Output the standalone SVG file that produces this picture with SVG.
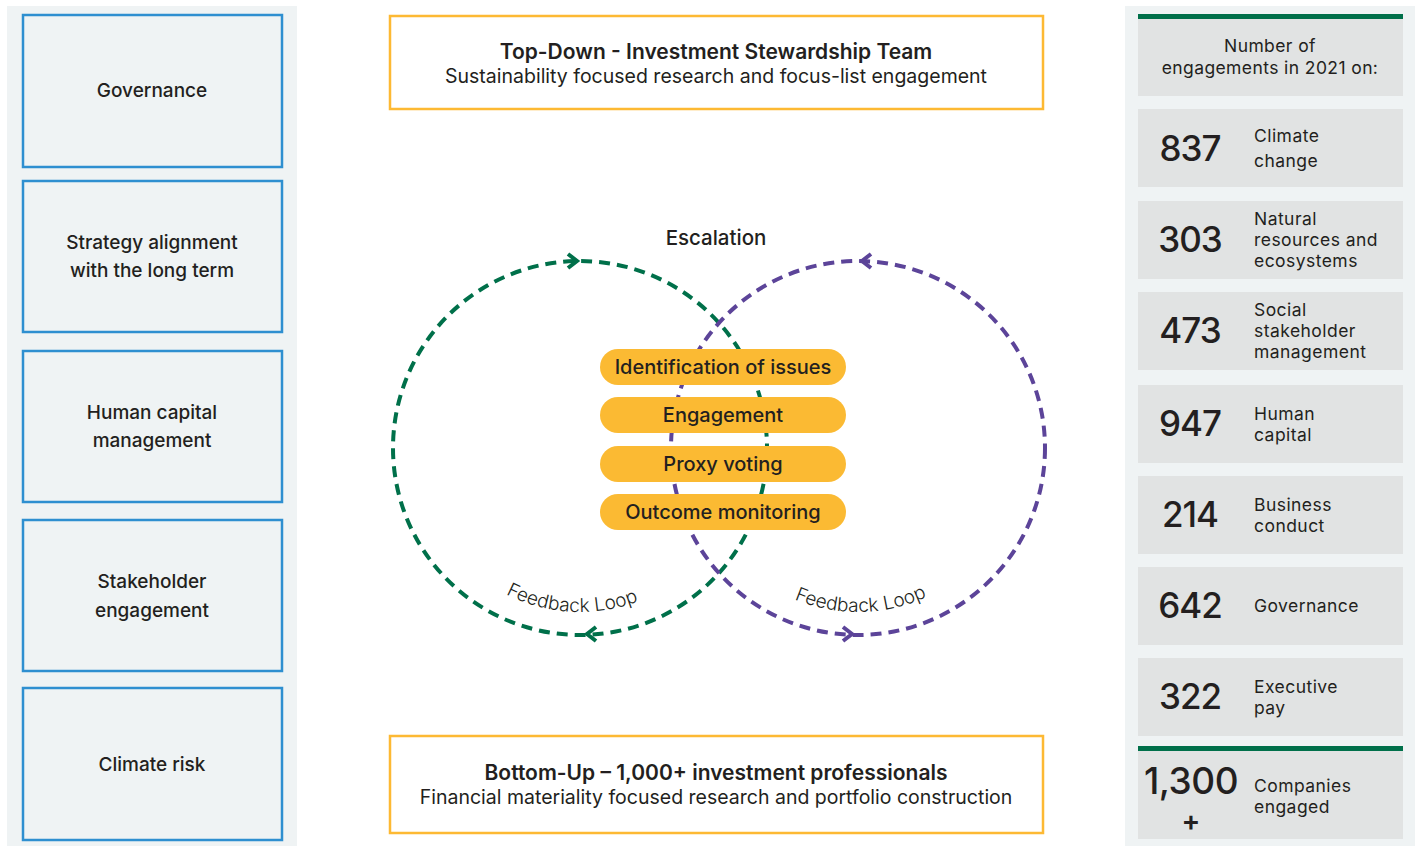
<svg xmlns="http://www.w3.org/2000/svg" width="1418" height="846" viewBox="0 0 1418 846">
<style>
text{font-family:"Inter","Liberation Sans",sans-serif;fill:#231f20}
.lbox{fill:#eff3f4;stroke:#2e8fd0;stroke-width:2.5}
.lt{font-size:19px;font-weight:500;text-anchor:middle}
.card{fill:#e1e3e3}
.num{font-size:35px;font-weight:500;text-anchor:middle;letter-spacing:-1px}
.cl{font-size:17.5px;font-weight:400;letter-spacing:0.45px}
.ybox{fill:#fff;stroke:#fdb933;stroke-width:2.5}
.tt{font-size:21px;font-weight:600;text-anchor:middle}
.st{font-size:19.5px;font-weight:400;text-anchor:middle}
.hd{font-size:17.5px;font-weight:400;text-anchor:middle;letter-spacing:0.4px}
.pill{fill:#fbba33}
.pt{font-size:20px;font-weight:500;text-anchor:middle}
.g{fill:none;stroke:#00704a;stroke-width:4}
.p{fill:none;stroke:#5c4499;stroke-width:4}
.dash{stroke-dasharray:11 7}
.chev{stroke-linecap:butt;stroke-linejoin:miter}
.fb{font-size:19px;font-weight:300}
</style>
<defs>
<path id="arcL" d="M 454.4 553.4 A 164 164 0 0 0 693.9 566.0"/>
<path id="arcR" d="M 740 561.9 A 164 164 0 0 0 979.9 557.7"/>
</defs>
<rect width="1418" height="846" fill="#fff"/>
<rect x="7" y="6" width="290" height="840" fill="#eff3f4"/>
<rect x="1125" y="6" width="290" height="840" fill="#eff3f4"/>

<g id="left-governance"><rect class="lbox" x="23" y="15" width="259" height="152"/><text class="lt" x="152" y="97">Governance</text></g>
<g id="left-strategy"><rect class="lbox" x="23" y="181" width="259" height="151"/><text class="lt" x="152" y="249">Strategy alignment<tspan x="152" dy="28">with the long term</tspan></text></g>
<g id="left-human"><rect class="lbox" x="23" y="351" width="259" height="151"/><text class="lt" x="152" y="419">Human capital<tspan x="152" dy="28">management</tspan></text></g>
<g id="left-stakeholder"><rect class="lbox" x="23" y="520" width="259" height="151"/><text class="lt" x="152" y="588">Stakeholder<tspan x="152" dy="29">engagement</tspan></text></g>
<g id="left-climate"><rect class="lbox" x="23" y="688" width="259" height="152"/><text class="lt" x="152" y="771">Climate risk</text></g>

<g id="top-box"><rect class="ybox" x="390" y="16" width="653" height="93"/><text class="tt" x="716" y="59">Top-Down - Investment Stewardship Team</text><text class="st" x="716" y="83">Sustainability focused research and focus-list engagement</text></g>
<g id="bottom-box"><rect class="ybox" x="390" y="736" width="653" height="97"/><text class="tt" x="716" y="780">Bottom-Up – 1,000+ investment professionals</text><text class="st" x="716" y="804">Financial materiality focused research and portfolio construction</text></g>

<g id="connectors">
<circle class="g dash" cx="580" cy="448" r="187"/>
<circle class="p dash" cx="858" cy="448" r="187"/>
<path class="g chev" d="M568 254 L577 261 L568 268"/>
<path class="g chev" d="M596 627 L587 634 L596 641"/>
<path class="p chev" d="M871 254 L862 261 L871 268"/>
<path class="p chev" d="M843 627 L852 634 L843 641"/>
<text class="fb"><textPath href="#arcL" startOffset="50%" text-anchor="middle">Feedback Loop</textPath></text>
<text class="fb"><textPath href="#arcR" startOffset="50%" text-anchor="middle">Feedback Loop</textPath></text>
<text x="716" y="245" style="font-size:20.5px;font-weight:500;text-anchor:middle">Escalation</text>
</g>

<g id="pill-identification"><rect class="pill" x="600" y="349" width="246" height="36" rx="18"/><text class="pt" x="723" y="374">Identification of issues</text></g>
<g id="pill-engagement"><rect class="pill" x="600" y="397" width="246" height="36" rx="18"/><text class="pt" x="723" y="422">Engagement</text></g>
<g id="pill-proxy"><rect class="pill" x="600" y="446" width="246" height="36" rx="18"/><text class="pt" x="723" y="471">Proxy voting</text></g>
<g id="pill-outcome"><rect class="pill" x="600" y="494" width="246" height="36" rx="18"/><text class="pt" x="723" y="519">Outcome monitoring</text></g>

<g id="card-header"><rect class="card" x="1138" y="14" width="265" height="82"/><rect x="1138" y="14" width="265" height="5" fill="#00704a"/><text class="hd" x="1270" y="52">Number of<tspan x="1270" dy="21.5">engagements in 2021 on:</tspan></text></g>
<g id="card-837"><rect class="card" x="1138" y="109" width="265" height="78"/><text class="num" x="1190" y="161">837</text><text class="cl" x="1254" y="142">Climate<tspan x="1254" dy="25">change</tspan></text></g>
<g id="card-303"><rect class="card" x="1138" y="201" width="265" height="78"/><text class="num" x="1190" y="252">303</text><text class="cl" x="1254" y="224.5">Natural<tspan x="1254" dy="21.2">resources and</tspan><tspan x="1254" dy="21.2">ecosystems</tspan></text></g>
<g id="card-473"><rect class="card" x="1138" y="292" width="265" height="78"/><text class="num" x="1190" y="343">473</text><text class="cl" x="1254" y="316">Social<tspan x="1254" dy="21.2">stakeholder</tspan><tspan x="1254" dy="21.2">management</tspan></text></g>
<g id="card-947"><rect class="card" x="1138" y="385" width="265" height="78"/><text class="num" x="1190" y="436">947</text><text class="cl" x="1254" y="420">Human<tspan x="1254" dy="21.2">capital</tspan></text></g>
<g id="card-214"><rect class="card" x="1138" y="476" width="265" height="78"/><text class="num" x="1190" y="527">214</text><text class="cl" x="1254" y="511">Business<tspan x="1254" dy="21.2">conduct</tspan></text></g>
<g id="card-642"><rect class="card" x="1138" y="567" width="265" height="78"/><text class="num" x="1190" y="618">642</text><text class="cl" x="1254" y="612">Governance</text></g>
<g id="card-322"><rect class="card" x="1138" y="658" width="265" height="78"/><text class="num" x="1190" y="709">322</text><text class="cl" x="1254" y="693">Executive<tspan x="1254" dy="21.2">pay</tspan></text></g>
<g id="card-1300"><rect class="card" x="1138" y="746" width="265" height="93"/><rect x="1138" y="746" width="265" height="5" fill="#00704a"/><text class="num" x="1191" y="794" style="font-size:37px;letter-spacing:-0.5px">1,300<tspan x="1191" dy="36.8" style="font-size:28px;font-weight:600;letter-spacing:0">+</tspan></text><text class="cl" x="1254" y="792">Companies<tspan x="1254" dy="21.2">engaged</tspan></text></g>
</svg>
